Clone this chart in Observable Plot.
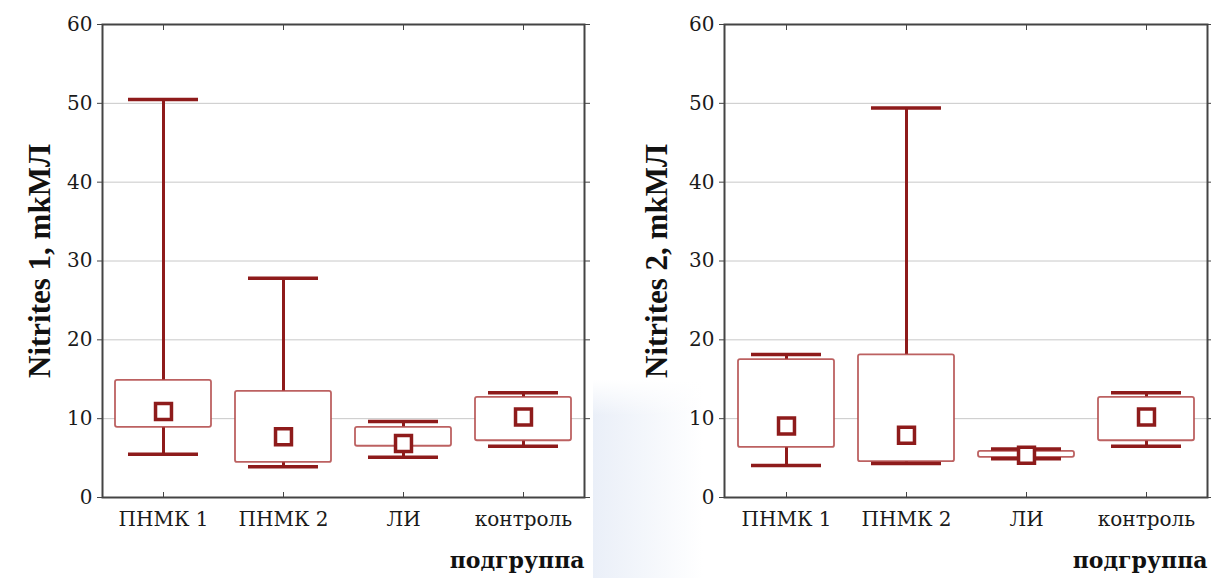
<!DOCTYPE html>
<html>
<head>
<meta charset="utf-8">
<script src="https://cdn.jsdelivr.net/npm/d3@7"></script>
<script src="https://cdn.jsdelivr.net/npm/@observablehq/plot@0.6"></script>
<style>
  html, body { margin: 0; padding: 0; background: #fff; }
  #wrap { position: relative; width: 1211px; height: 578px; display: flex; overflow: hidden; }
  #shade { position: absolute; left: 593px; top: 380px; width: 110px; height: 198px;
           background:
             linear-gradient(to bottom, #fff, rgba(255,255,255,0) 18%),
             linear-gradient(to right, #eaeff8, #f3f6fb 45%, rgba(255,255,255,0)); }
  #left, #right { position: relative; }
</style>
</head>
<body>
<div id="wrap">
  <div id="shade"></div>
  <div id="left"></div>
  <div id="right"></div>
</div>
<script>
// ---- data ----
const categories = ["ПНМК 1", "ПНМК 2", "ЛИ", "контроль"];
const yTicks = [0, 10, 20, 30, 40, 50, 60];

const n1Min = [5.5, 3.9, 5.1, 6.5];
const n1Q1  = [8.9, 4.45, 6.5, 7.2];
const n1Med = [10.9, 7.7, 6.85, 10.2];
const n1Q3  = [14.85, 13.45, 8.9, 12.7];
const n1Max = [50.5, 27.8, 9.65, 13.3];

const n2Min = [4.05, 4.3, 4.9, 6.5];
const n2Q1  = [6.35, 4.55, 5.1, 7.2];
const n2Med = [9.07, 7.9, 5.35, 10.2];
const n2Q3  = [17.5, 18.1, 5.85, 12.7];
const n2Max = [18.15, 49.4, 6.15, 13.3];

const yTitle1 = "Nitrites 1, mkМЛ";
const yTitle2 = "Nitrites 2, mkМЛ";
const xTitle = "подгруппа";

const dark = "#8e1b1b";
const boxStroke = "#b04545";
const tickFont = "DejaVu Serif";
const titleFont = "Liberation Serif";

function rows(mn, q1, md, q3, mx) {
  return categories.map((c, i) => ({cat: c, min: mn[i], q1: q1[i], med: md[i], q3: q3[i], max: mx[i]}));
}

function chart(data, yTitle, cfg) {
  return Plot.plot({
    width: cfg.width,
    height: 578,
    marginLeft: cfg.marginLeft,
    marginRight: cfg.marginRight,
    marginTop: 24,
    marginBottom: 81,
    style: {background: "transparent", fontSize: "20px", fontFamily: tickFont, color: "#1a1a1a"},
    x: {type: "band", domain: categories, paddingInner: 0.2, paddingOuter: 0.1, axis: null},
    y: {domain: [0, 60], axis: null},
    marks: [
      Plot.gridY(yTicks.filter(d => d > 0 && d < 60), {stroke: "#c8c8c8", strokeOpacity: 1, strokeWidth: 1}),
      Plot.axisY({anchor: "left", ticks: yTicks, tickSize: 5, tickFormat: () => "", label: null, color: "#444"}),
      Plot.axisY({anchor: "left", ticks: yTicks, tickSize: 0, tickPadding: 10, label: null, fontSize: 20, fontFamily: tickFont, fill: "#1a1a1a", stroke: "#1a1a1a", strokeWidth: 0.45}),
      Plot.axisY({anchor: "right", ticks: yTicks, tickSize: 5, tickFormat: () => "", label: null, color: "#444"}),
      Plot.axisX({anchor: "top", tickSize: -5, tickFormat: () => "", label: null, color: "#444"}),
      Plot.axisX({anchor: "bottom", tickSize: -5, tickFormat: () => "", label: null, color: "#444"}),
      Plot.axisX({anchor: "bottom", tickSize: 0, tickPadding: 14, label: null, fontSize: 20, fontFamily: tickFont, fill: "#1a1a1a", stroke: "#1a1a1a", strokeWidth: 0.45}),
      Plot.ruleX(data, {x: "cat", y1: "q3", y2: "max", stroke: dark, strokeWidth: 3}),
      Plot.ruleX(data, {x: "cat", y1: "min", y2: "q1", stroke: dark, strokeWidth: 3}),
      Plot.barY(data, {x: "cat", y1: "q1", y2: "q3", fill: "white", stroke: boxStroke, strokeWidth: 1.8, strokeOpacity: 0.85, rx: 2}),
      Plot.tickY(data, {x: "cat", y: "max", stroke: dark, strokeWidth: 3.5, insetLeft: 13, insetRight: 13}),
      Plot.tickY(data, {x: "cat", y: "min", stroke: dark, strokeWidth: 3.5, insetLeft: 13, insetRight: 13}),
      Plot.dot(data, {x: "cat", y: "med", symbol: "square", r: 9, fill: "white", stroke: dark, strokeWidth: 3.5}),
      Plot.frame({stroke: "#444", strokeWidth: 2}),
      Plot.text([yTitle], {frameAnchor: "left", dx: -cfg.titleOffset, rotate: -90, fontSize: 31, fontFamily: titleFont, fontWeight: "bold", fill: "#111", textAnchor: "middle"}),
      Plot.text([xTitle], {frameAnchor: "bottom-right", dy: 70, textAnchor: "end", fontSize: 22, fontFamily: tickFont, fontWeight: "bold", fill: "#111"})
    ]
  });
}

document.getElementById("left").append(
  chart(rows(n1Min, n1Q1, n1Med, n1Q3, n1Max), yTitle1, {width: 600, marginLeft: 102, marginRight: 16, titleOffset: 62})
);
document.getElementById("right").append(
  chart(rows(n2Min, n2Q1, n2Med, n2Q3, n2Max), yTitle2, {width: 611, marginLeft: 124, marginRight: 4, titleOffset: 67})
);
</script>
</body>
</html>
